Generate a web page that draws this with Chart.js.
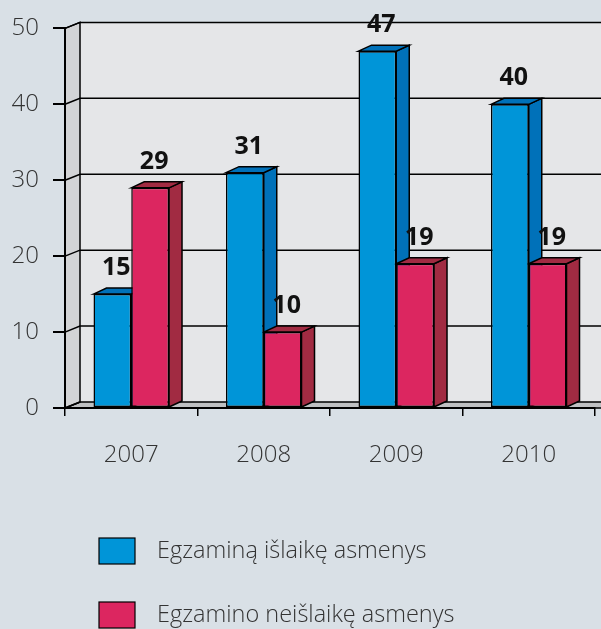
<!DOCTYPE html>
<html>
<head>
<meta charset="utf-8">
<script src="https://cdn.jsdelivr.net/npm/chart.js@4.4.0/dist/chart.umd.min.js"></script>
<style>
  body { margin: 0; background: #d9e0e6; }
  canvas { display: block; }
</style>
</head>
<body>
<canvas id="myChart" width="601" height="629"></canvas>
<script>
const years = ['2007', '2008', '2009', '2010'];
const passed = [15, 31, 47, 40];
const failed = [29, 10, 19, 19];
const yTicks = [0, 10, 20, 30, 40, 50];
const seriesNames = ['Egzaminą išlaikę asmenys', 'Egzamino neišlaikę asmenys'];

const frontColors = ['#0095d8', '#dc2660'];
const darkColors = ['#0071b9', '#a12b42'];

const DX = 13, DY = -6;   // depth of the bars
const WX = 15, WY = -6;   // depth of the walls
const FONT = '"Open Sans", sans-serif';

function poly(ctx, pts, fill) {
    ctx.beginPath();
    ctx.moveTo(pts[0][0], pts[0][1]);
    for (let i = 1; i < pts.length; i++) ctx.lineTo(pts[i][0], pts[i][1]);
    ctx.closePath();
    ctx.fillStyle = fill;
    ctx.fill();
    ctx.stroke();
}

const frame3d = {
    id: 'frame3d',
    beforeDraw(chart) {
        const ctx = chart.ctx;
        const a = chart.chartArea;
        const y = chart.scales.y;
        const W = chart.width + 20;
        ctx.save();
        ctx.strokeStyle = '#000';
        ctx.lineWidth = 1.5;
        // back wall
        ctx.fillStyle = '#e5e6e8';
        ctx.fillRect(a.left + WX, a.top + WY, W, a.bottom - a.top);
        // floor
        poly(ctx, [[a.left, a.bottom], [a.left + WX, a.bottom + WY], [W, a.bottom + WY], [W, a.bottom]], '#bfc0c2');
        // left wall
        poly(ctx, [[a.left, a.top], [a.left + WX, a.top + WY], [a.left + WX, a.bottom + WY], [a.left, a.bottom]], '#d3d4d6');
        // grid lines
        yTicks.forEach(v => {
            const py = y.getPixelForValue(v);
            ctx.beginPath();
            ctx.moveTo(a.left, py);
            ctx.lineTo(a.left + WX, py + WY);
            if (v > 0) ctx.lineTo(W, py + WY);
            ctx.stroke();
        });
        ctx.restore();
    },
    beforeDatasetsDraw(chart) {
        const ctx = chart.ctx;
        ctx.save();
        ctx.strokeStyle = '#000';
        ctx.lineWidth = 1.5;
        chart.data.datasets.forEach((ds, di) => {
            chart.getDatasetMeta(di).data.forEach(bar => {
                const l = bar.x - bar.width / 2, r = bar.x + bar.width / 2;
                poly(ctx, [[r, bar.y], [r + DX, bar.y + DY], [r + DX, bar.base + DY], [r, bar.base]], darkColors[di]);
                poly(ctx, [[l, bar.y], [l + DX, bar.y + DY], [r + DX, bar.y + DY], [r, bar.y]], darkColors[di]);
            });
        });
        ctx.restore();
    },
    afterDatasetsDraw(chart) {
        const ctx = chart.ctx;
        ctx.save();
        ctx.fillStyle = '#111';
        ctx.font = 'bold 25px ' + FONT;
        ctx.textAlign = 'center';
        ctx.textBaseline = 'middle';
        chart.data.datasets.forEach((ds, di) => {
            chart.getDatasetMeta(di).data.forEach((bar, i) => {
                ctx.fillText(ds.data[i], bar.x + 4, bar.y - 26);
            });
        });
        ctx.restore();
    },
    afterDraw(chart) {
        const ctx = chart.ctx;
        ctx.save();
        ctx.lineWidth = 1.2;
        ctx.strokeStyle = '#000';
        ctx.font = '300 23.5px ' + FONT;
        ctx.textBaseline = 'middle';
        seriesNames.forEach((name, i) => {
            const cy = 551 + i * 64;
            ctx.fillStyle = frontColors[i];
            ctx.fillRect(99, cy - 13, 36, 26);
            ctx.strokeRect(99, cy - 13, 36, 26);
            ctx.fillStyle = '#333';
            ctx.fillText(name, 157, cy);
        });
        ctx.restore();
    }
};

const ctx = document.getElementById('myChart').getContext('2d');
const myChart = new Chart(ctx, {
    type: 'bar',
    data: {
        labels: years,
        datasets: [
            {
                label: seriesNames[0],
                data: passed,
                backgroundColor: frontColors[0],
                borderColor: '#000',
                borderWidth: 1.5,
                borderSkipped: false
            },
            {
                label: seriesNames[1],
                data: failed,
                backgroundColor: frontColors[1],
                borderColor: '#000',
                borderWidth: 1.5,
                borderSkipped: false
            }
        ]
    },
    options: {
        responsive: false,
        animation: false,
        layout: { padding: { top: 23, right: 6, left: 0, bottom: 0 } },
        plugins: { legend: { display: false }, tooltip: { enabled: false } },
        datasets: { bar: { categoryPercentage: 0.57, barPercentage: 1 } },
        scales: {
            x: {
                afterFit: s => { s.height = 221; },
                grid: { drawOnChartArea: false, tickLength: 8, color: '#000', lineWidth: 1.5, offset: true },
                border: { color: '#000', width: 2 },
                ticks: { color: '#333', padding: 25, font: { family: FONT, size: 24, weight: 300 } }
            },
            y: {
                min: 0,
                max: 50,
                afterBuildTicks: s => { s.ticks = yTicks.map(v => ({ value: v })); },
                afterFit: s => { s.width = 65; },
                grid: { drawOnChartArea: false, tickLength: 12, color: '#000', lineWidth: 2 },
                border: { color: '#000', width: 2 },
                ticks: { color: '#333', padding: 14, font: { family: FONT, size: 24, weight: 300 } }
            }
        }
    },
    plugins: [frame3d]
});
</script>
</body>
</html>
